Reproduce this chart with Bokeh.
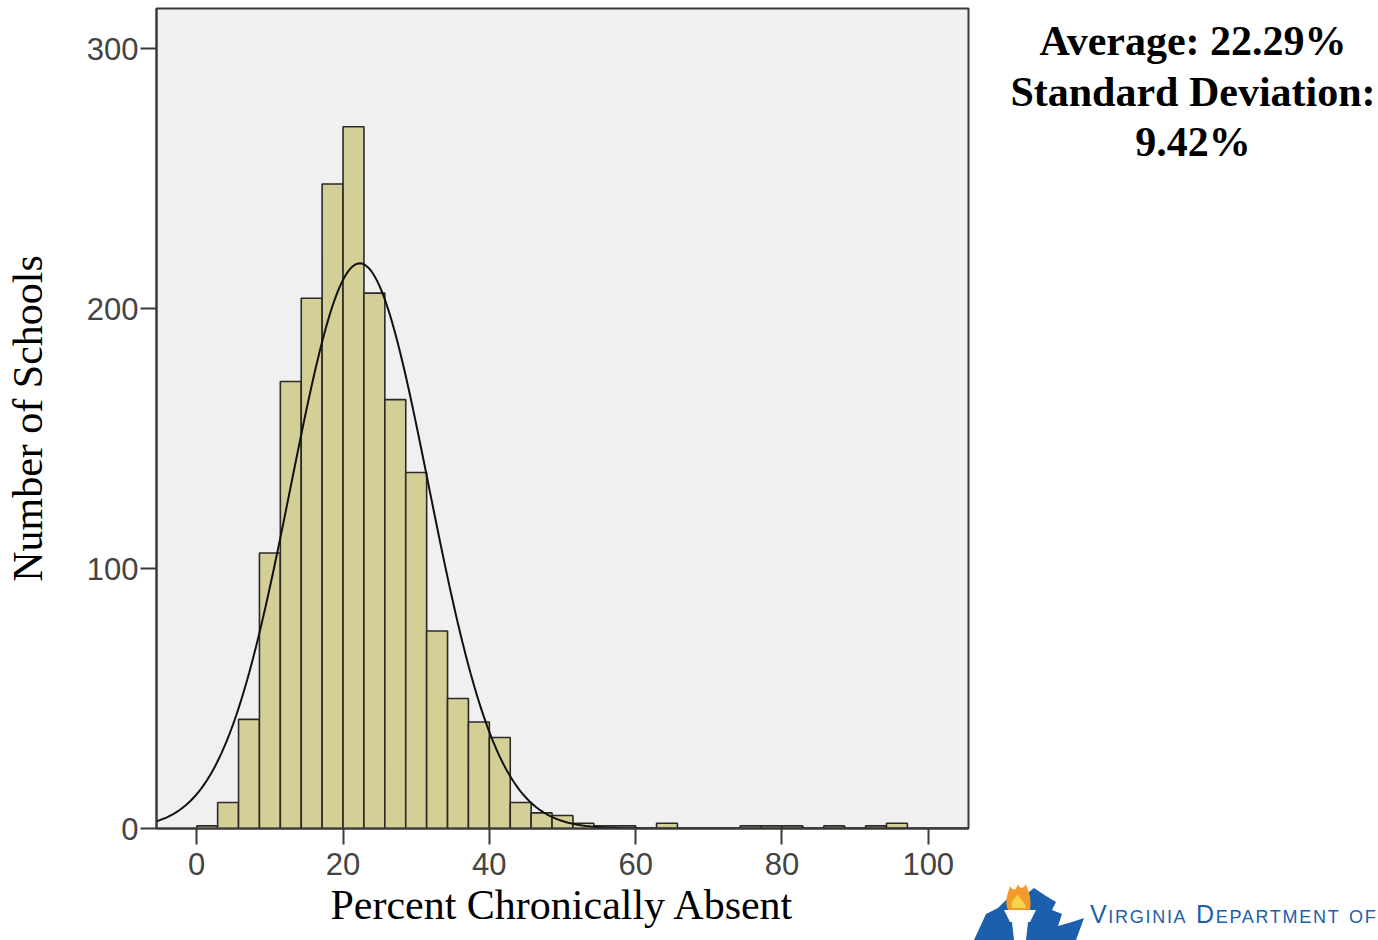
import numpy as np
from bokeh.plotting import figure
from bokeh.models import FixedTicker, ColumnDataSource, Div
from bokeh.layouts import row
from bokeh.embed import file_html
from bokeh.resources import INLINE

# ---- data ----
bin_width = 20 / 7
counts = [1, 10, 42, 106, 172, 204, 248, 270, 206, 165, 137, 76, 50, 41, 35,
          10, 6, 5, 2, 1, 1, 0, 2, 0, 0, 0, 1, 1, 1, 0, 1, 0, 1, 2]
mean_pct = 22.29
sd_pct = 9.42
x_ticks = [0, 20, 40, 60, 80, 100]
y_ticks = [0, 100, 200, 300]
stats_lines = ["Average: 22.29%", "Standard Deviation:", "9.42%"]
x_title = "Percent Chronically Absent"
y_title = "Number of Schools"
logo_text = "Virginia Department of"

lefts = [i * bin_width for i in range(len(counts))]
rights = [(i + 1) * bin_width for i in range(len(counts))]
src = ColumnDataSource(dict(left=lefts, right=rights, top=counts,
                            bottom=[0] * len(counts)))

n_total = sum(counts)
xs = np.linspace(-5.5, 105.5, 500)
ys = n_total * bin_width * np.exp(-0.5 * ((xs - mean_pct) / sd_pct) ** 2) / (sd_pct * np.sqrt(2 * np.pi))

FIG_W, FIG_H = 972, 940
p = figure(width=FIG_W, height=FIG_H, x_range=(-5.5, 105.5), y_range=(0, 315.5),
           output_backend="svg", toolbar_location=None,
           min_border_left=156, min_border_right=4, min_border_top=8,
           min_border_bottom=112)
p.background_fill_color = "#F0F0F0"
p.border_fill_color = "white"
p.outline_line_color = "#3a3a3a"
p.outline_line_width = 2
p.grid.visible = False

p.quad(left="left", right="right", top="top", bottom="bottom", source=src,
       fill_color="#D3CF96", line_color="#2a2a2a", line_width=1.6)
p.line(xs, ys, line_color="#111111", line_width=2)

for ax, ticks in ((p.xaxis[0], x_ticks), (p.yaxis[0], y_ticks)):
    ax.ticker = FixedTicker(ticks=ticks)
    ax.minor_tick_line_color = None
    ax.major_tick_in = 0
    ax.major_tick_out = 16
    ax.major_tick_line_color = "#3a3a3a"
    ax.major_tick_line_width = 2
    ax.axis_line_color = "#3a3a3a"
    ax.axis_line_width = 2
    ax.major_label_text_font = "Liberation Sans"
    ax.major_label_text_font_size = "31px"
    ax.major_label_text_color = "#444444"
    ax.axis_label_text_font = "Liberation Serif"
    ax.axis_label_text_font_size = "42px"
    ax.axis_label_text_font_style = "normal"
    ax.axis_label_text_color = "black"

p.xaxis[0].axis_label = x_title
p.xaxis[0].major_label_standoff = 8
p.xaxis[0].axis_label_standoff = 4
p.yaxis[0].axis_label = y_title
p.yaxis[0].major_label_standoff = 2
p.yaxis[0].axis_label_standoff = 33

DIV_W = 404
stats_html = "<br>".join(stats_lines)
logo_svg = (
    '<svg width="130" height="60" viewBox="0 0 130 60" '
    'style="position:absolute;left:0px;top:882px;">'
    '<polygon points="2,58 14,32 26,26 34,18 40,10 52,14 62,6 74,14 84,20 80,28 '
    '90,32 86,44 100,40 112,36 104,58" fill="#1B5FAD"/>'
    '<path d="M36,28 C32,18 36,12 38,4 C42,10 44,8 46,2 C48,8 52,6 54,2 '
    'C56,10 60,14 58,28 Z" fill="#F39A2B"/>'
    '<path d="M40,26 C38,18 44,16 46,12 C48,18 52,18 54,26 Z" fill="#F7D54A"/>'
    '<polygon points="32,28 64,28 58,40 38,40" fill="white"/>'
    '<polygon points="40,40 56,40 54,58 42,58" fill="white"/>'
    '</svg>'
)
div_html = (
    f'<div style="position:relative;width:{DIV_W}px;height:{FIG_H}px;overflow:hidden;">'
    f'<div style="position:absolute;left:21px;top:16px;width:400px;text-align:center;'
    f'font-family:\'Liberation Serif\',serif;font-weight:bold;font-size:42px;'
    f'line-height:50.5px;color:black;white-space:nowrap;">{stats_html}</div>'
    f'{logo_svg}'
    f'<div style="position:absolute;left:118px;top:900px;font-family:\'Liberation Sans\',sans-serif;'
    f'font-variant:small-caps;font-size:25px;line-height:28px;color:#1B5FAD;'
    f'letter-spacing:1.7px;white-space:nowrap;">{logo_text}</div>'
    f'</div>'
)
d = Div(text=div_html, width=DIV_W, height=FIG_H, styles={"margin": "0", "padding": "0"})

layout = row(p, d, spacing=0)
open("out.html", "w").write(file_html(layout, INLINE))
